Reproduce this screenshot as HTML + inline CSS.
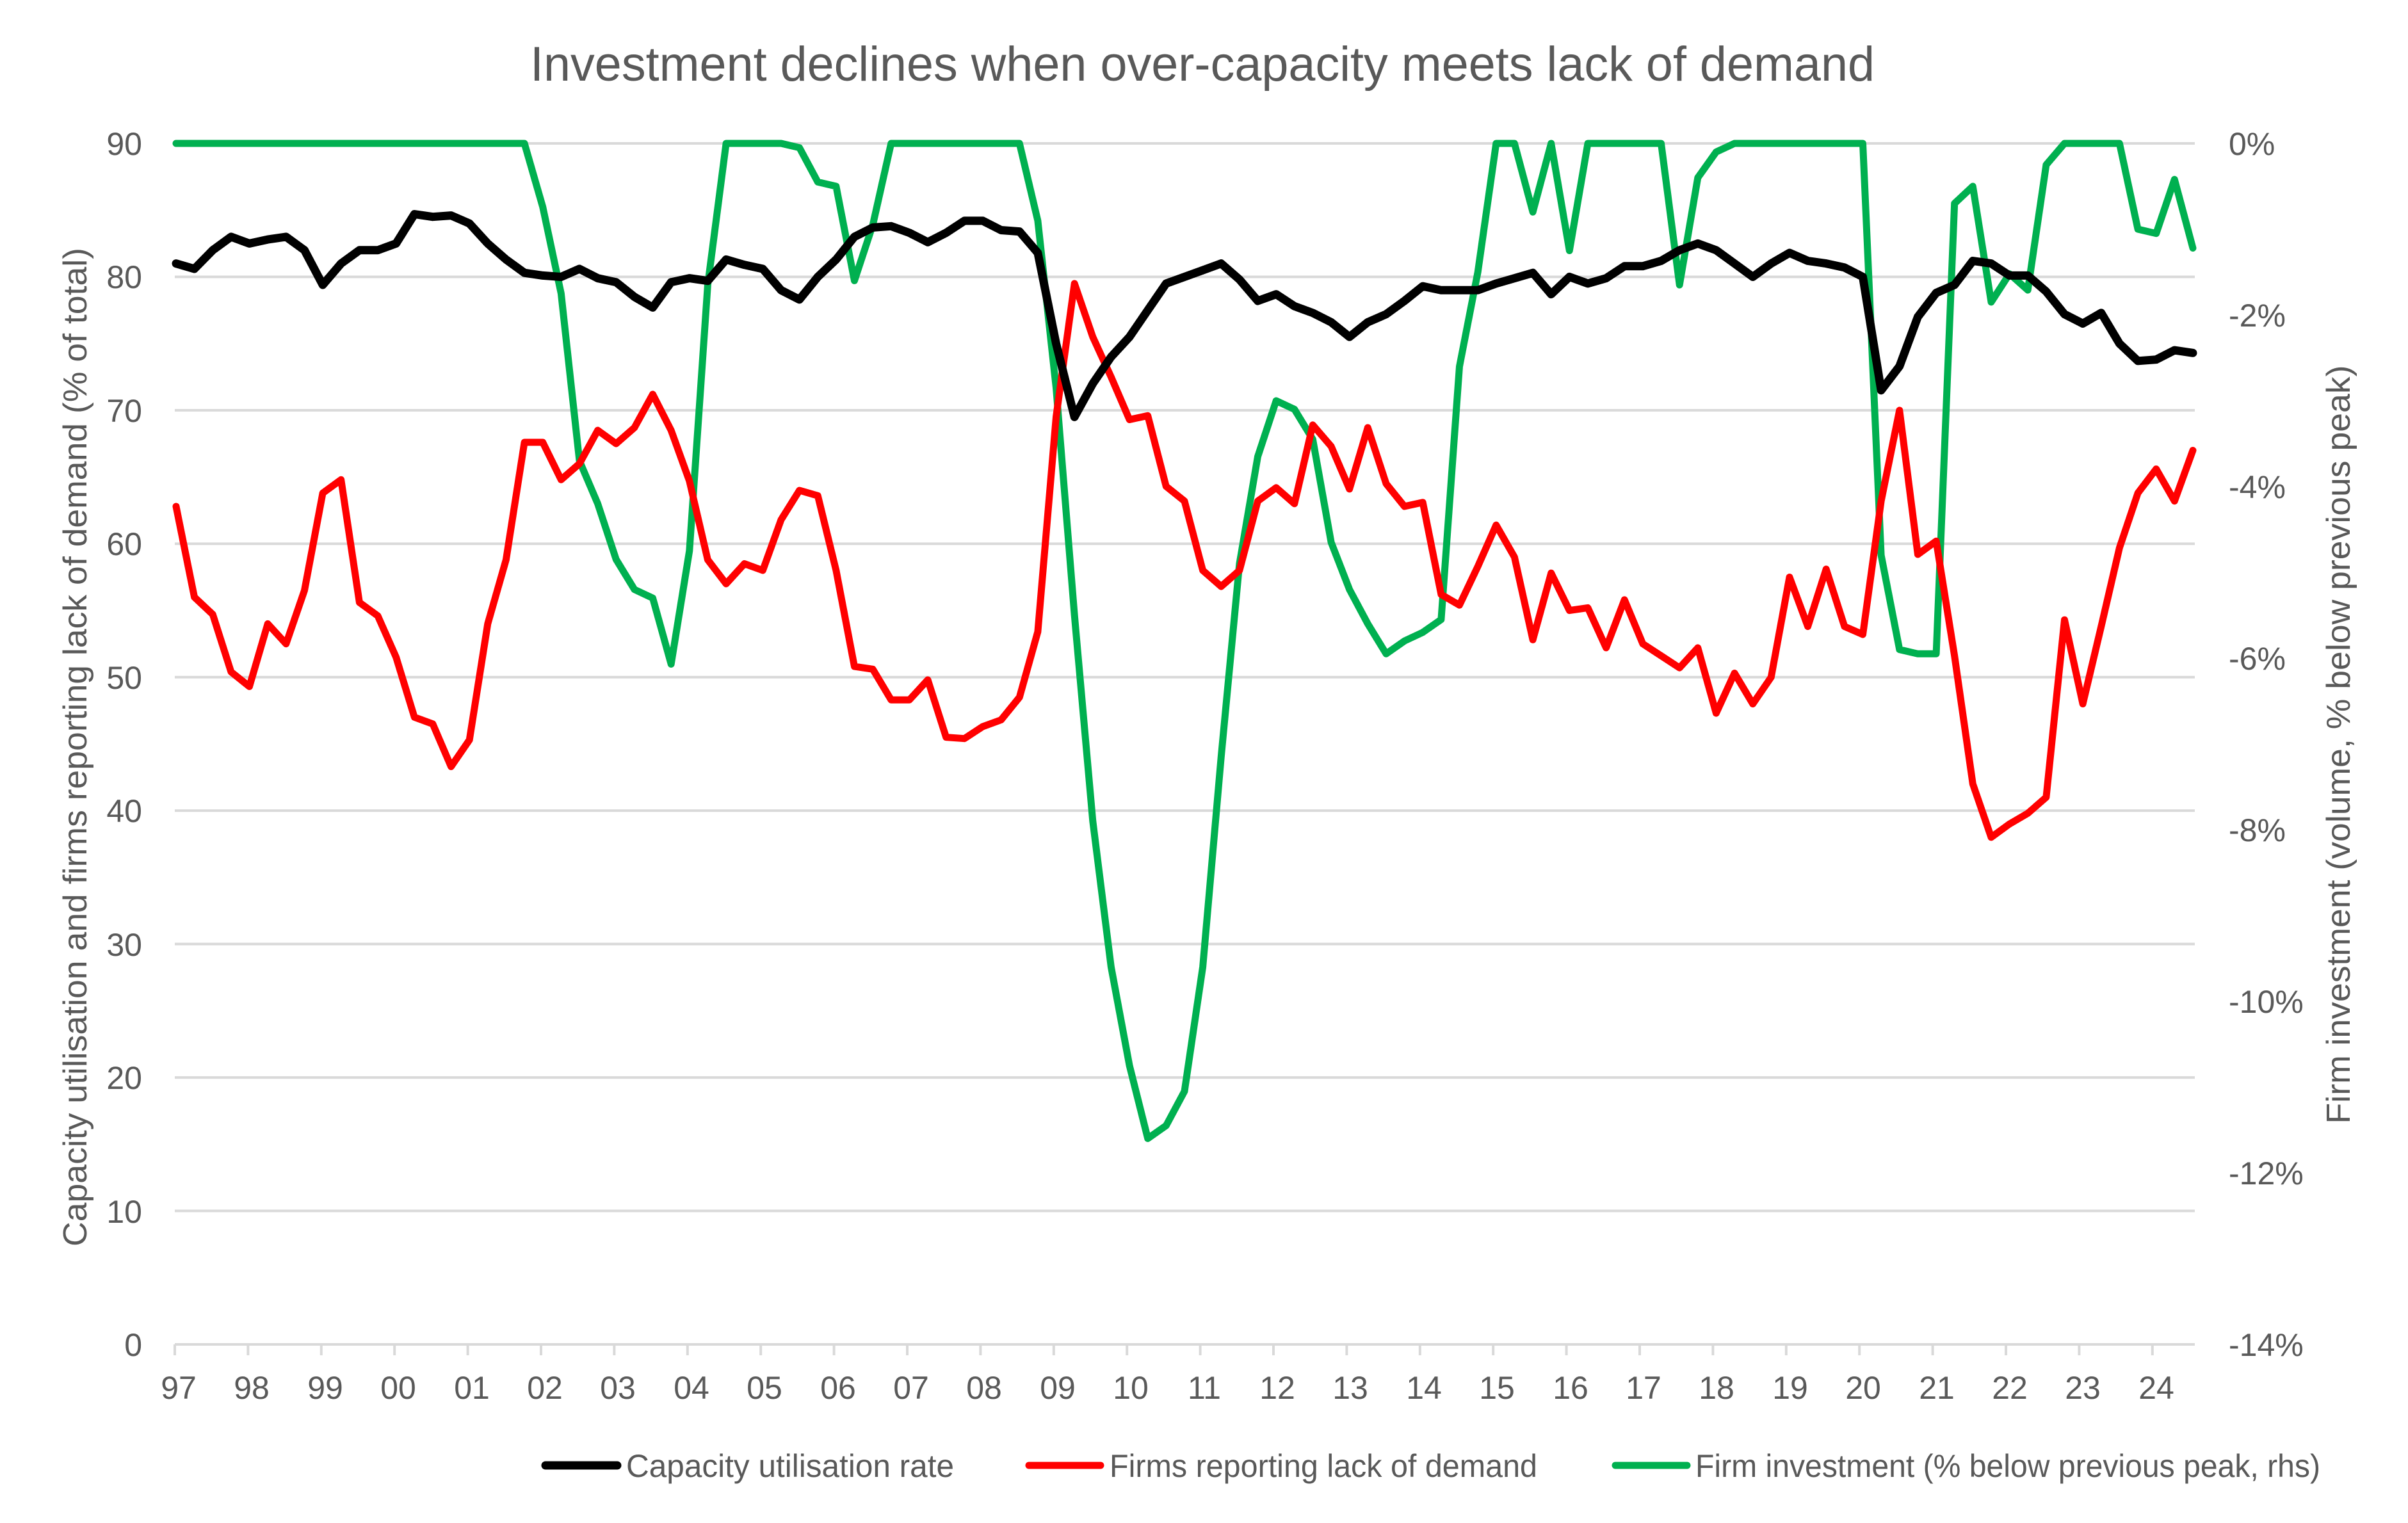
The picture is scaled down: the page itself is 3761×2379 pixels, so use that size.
<!DOCTYPE html>
<html><head><meta charset="utf-8"><style>
html,body{margin:0;padding:0;background:#fff;}
svg{display:block;}
text{font-family:"Liberation Sans",sans-serif;fill:#595959;}
</style></head><body>
<svg id="s" width="3761" height="2379" viewBox="0 0 3761 2379" xmlns="http://www.w3.org/2000/svg">
<rect width="3761" height="2379" fill="#fff"/>
<text x="1878" y="126" font-size="76" text-anchor="middle" textLength="2100" lengthAdjust="spacingAndGlyphs">Investment declines when over-capacity meets lack of demand</text>
<g id="grid" stroke="#d9d9d9" stroke-width="4"></g>
<g font-size="50" text-anchor="end">
<text x="222" y="242">90</text>
<text x="222" y="450">80</text>
<text x="222" y="659">70</text>
<text x="222" y="867">60</text>
<text x="222" y="1076">50</text>
<text x="222" y="1284">40</text>
<text x="222" y="1493">30</text>
<text x="222" y="1701">20</text>
<text x="222" y="1910">10</text>
<text x="222" y="2118">0</text>
</g>
<g font-size="50">
<text x="3481" y="242">0%</text>
<text x="3481" y="510">-2%</text>
<text x="3481" y="778">-4%</text>
<text x="3481" y="1046">-6%</text>
<text x="3481" y="1314">-8%</text>
<text x="3481" y="1582">-10%</text>
<text x="3481" y="1850">-12%</text>
<text x="3481" y="2118">-14%</text>
</g>
<g font-size="50" text-anchor="middle">
<text x="279" y="2185">97</text><text x="393" y="2185">98</text><text x="508" y="2185">99</text><text x="622" y="2185">00</text>
<text x="737" y="2185">01</text><text x="851" y="2185">02</text><text x="965" y="2185">03</text><text x="1080" y="2185">04</text>
<text x="1194" y="2185">05</text><text x="1309" y="2185">06</text><text x="1423" y="2185">07</text><text x="1537" y="2185">08</text>
<text x="1652" y="2185">09</text><text x="1766" y="2185">10</text><text x="1881" y="2185">11</text><text x="1995" y="2185">12</text>
<text x="2109" y="2185">13</text><text x="2224" y="2185">14</text><text x="2338" y="2185">15</text><text x="2453" y="2185">16</text>
<text x="2567" y="2185">17</text><text x="2681" y="2185">18</text><text x="2796" y="2185">19</text><text x="2910" y="2185">20</text>
<text x="3025" y="2185">21</text><text x="3139" y="2185">22</text><text x="3253" y="2185">23</text><text x="3368" y="2185">24</text>
</g>
<text transform="translate(135,1167) rotate(-90)" font-size="52" text-anchor="middle" textLength="1560" lengthAdjust="spacingAndGlyphs">Capacity utilisation and firms reporting lack of demand (% of total)</text>
<text transform="translate(3670,1163) rotate(-90)" font-size="52" text-anchor="middle" textLength="1185" lengthAdjust="spacingAndGlyphs">Firm investment (volume, % below previous peak)</text>
<g id="lines" fill="none" stroke-linejoin="round" stroke-linecap="round"></g>
<g font-size="50">
<line x1="852" y1="2289" x2="964" y2="2289" stroke="#000" stroke-width="13" stroke-linecap="round"/>
<text x="978" y="2307" textLength="512" lengthAdjust="spacingAndGlyphs">Capacity utilisation rate</text>
<line x1="1607" y1="2289" x2="1719" y2="2289" stroke="#ff0000" stroke-width="11" stroke-linecap="round"/>
<text x="1733" y="2307" textLength="668" lengthAdjust="spacingAndGlyphs">Firms reporting lack of demand</text>
<line x1="2523" y1="2289" x2="2635" y2="2289" stroke="#00b050" stroke-width="11" stroke-linecap="round"/>
<text x="2648" y="2307" textLength="976" lengthAdjust="spacingAndGlyphs">Firm investment (% below previous peak, rhs)</text>
</g>
</svg>
<script>
(function(){
var NS="http://www.w3.org/2000/svg";
function el(p,t,a){var e=document.createElementNS(NS,t);for(var k in a)e.setAttribute(k,a[k]);p.appendChild(e);return e;}
var g=document.getElementById("grid"),ln=document.getElementById("lines");
function yL(v){return 2100-v*20.844;}
function yR(p){return 224+(-p)*134;}
for(var v=0;v<=90;v+=10){var y=yL(v);el(g,"line",{x1:273,x2:3428,y1:y,y2:y});}
for(var i=0;i<28;i++){var x=273+i*114.4;el(g,"line",{x1:x,x2:x,y1:2100,y2:2117});}
var blk=[81,80.6,82,83, 82.5,82.8,83,82, 79.4,81,82,82, 82.5,84.7,84.5,84.6, 84,82.5,81.3,80.3, 80.1,80,80.6,79.9, 79.6,78.5,77.7,79.6, 79.9,79.7,81.3,80.9, 80.6,79,78.3,80, 81.3,83,83.7,83.8, 83.3,82.6,83.3,84.2, 84.2,83.5,83.4,81.8, 75,69.5,72,74, 75.5,77.5,79.5,80, 80.5,81,79.8,78.2, 78.7,77.8,77.3,76.6, 75.5,76.6,77.2,78.2, 79.3,79,79,79, 79.5,79.9,80.3,78.7, 80,79.5,79.9,80.8, 80.8,81.2,82,82.5, 82,81,80,81, 81.8,81.2,81,80.7, 80,71.5,73.3,77, 78.8,79.4,81.2,81, 80.1,80.1,78.9,77.2, 76.5,77.3,75.0,73.7, 73.8,74.5,74.3];
var red=[62.8,56,54.7,50.4, 49.3,54,52.5,56.5, 63.8,64.8,55.6,54.6, 51.5,47,46.5,43.3, 45.3,54,58.8,67.6, 67.6,64.8,66,68.5, 67.5,68.7,71.2,68.5, 64.7,58.8,57,58.5, 58,61.8,64,63.6, 58,50.8,50.6,48.3, 48.3,49.8,45.5,45.4, 46.3,46.8,48.5,53.4, 69.5,79.5,75.5,72.5, 69.3,69.6,64.3,63.2, 58,56.8,58,63.2, 64.2,63,68.9,67.3, 64.1,68.7,64.5,62.8, 63.1,56.2,55.4,58.3, 61.4,59,52.8,57.8, 55,55.2,52.2,55.8, 52.5,51.6,50.7,52.2, 47.3,50.3,48,50, 57.5,53.8,58.1,53.8, 53.2,63.2,70,59.2, 60.2,51.6,42,38, 39,39.8,41,54.3, 48,53.8,59.7,63.8, 65.6,63.2,67];
var grn=[];for(var i=0;i<111;i++)grn.push(0);
var set={20:-0.74,21:-1.75,22:-3.7,23:-4.2,24:-4.85,25:-5.2,26:-5.3,27:-6.07,28:-4.75,29:-1.65,
34:-0.05,35:-0.45,36:-0.5,37:-1.6,38:-0.95,
47:-0.9,48:-2.85,49:-5.5,50:-7.9,51:-9.6,52:-10.75,53:-11.6,54:-11.45,55:-11.05,56:-9.6,57:-7.15,58:-4.9,59:-3.65,60:-3.0,61:-3.1,62:-3.45,63:-4.65,64:-5.2,65:-5.6,66:-5.95,67:-5.8,68:-5.7,69:-5.55,70:-2.6,71:-1.5,
74:-0.8,76:-1.25,82:-1.65,83:-0.4,84:-0.1,
93:-4.8,94:-5.9,95:-5.95,96:-5.95,97:-0.7,98:-0.5,99:-1.85,100:-1.52,101:-1.71,102:-0.25,107:-1.0,108:-1.05,109:-0.42,110:-1.22};
for(var k in set)grn[+k]=set[k];
function pts(a,f){var s=[];for(var i=0;i<a.length;i++)s.push((275+i*28.636).toFixed(1)+","+f(a[i]).toFixed(1));return s.join(" ");}
el(ln,"polyline",{points:pts(grn,yR),stroke:"#00b050","stroke-width":11});
el(ln,"polyline",{points:pts(red,yL),stroke:"#ff0000","stroke-width":11});
el(ln,"polyline",{points:pts(blk,yL),stroke:"#000000","stroke-width":13});
})();
</script>
</body></html>
